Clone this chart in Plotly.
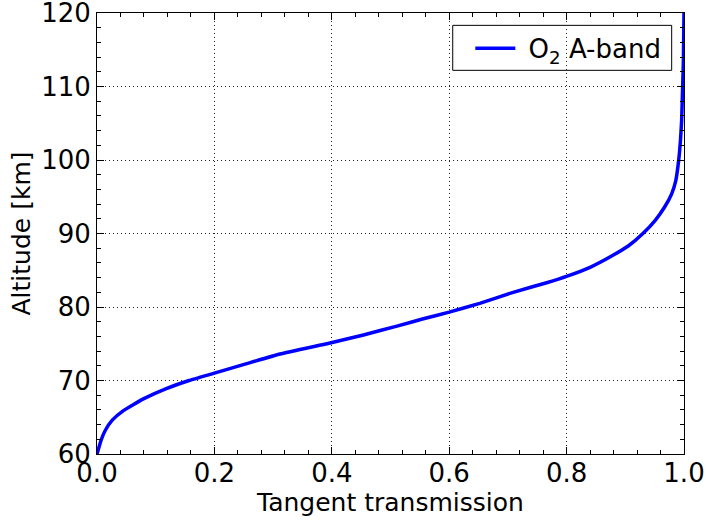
import plotly.graph_objects as go

# Tangent transmission profile of the O2 A-band versus tangent altitude
altitude_km = [60, 61.9, 63.2, 64.6, 65.9, 67.5, 68.9, 70.0, 71.0, 72.3, 73.6, 75.1,
               76.2, 77.4, 78.4, 79.3, 80.5, 82.0, 83.3, 84.2, 85.4, 86.9, 88.3, 90.0,
               91.8, 93.6, 95.4, 97.2, 100.0, 102.7, 105.4, 108.1, 110.8, 113.6, 120.0]
transmission = [0.0, 0.007, 0.014, 0.026, 0.045, 0.079, 0.118, 0.157, 0.2, 0.255, 0.312, 0.397,
                0.454, 0.511, 0.556, 0.6, 0.652, 0.709, 0.766, 0.801, 0.84, 0.876, 0.905, 0.930,
                0.951, 0.967, 0.979, 0.986, 0.991, 0.994, 0.996, 0.997, 0.998, 0.999, 1.0]

x_ticks = [0.0, 0.2, 0.4, 0.6, 0.8, 1.0]
x_tick_labels = ["0.0", "0.2", "0.4", "0.6", "0.8", "1.0"]
y_ticks = [60, 70, 80, 90, 100, 110, 120]
y_tick_labels = ["60", "70", "80", "90", "100", "110", "120"]

X_RANGE = [0, 1]
Y_RANGE = [60, 120]

FONT = "DejaVu Sans"
TICK_SIZE = 26
TITLE_SIZE = 25

fig = go.Figure()
fig.add_trace(go.Scatter(
    x=transmission, y=altitude_km, mode="lines",
    name="\u00a0O<sub>2</sub> A-band",
    line=dict(color="#0000ff", width=3.5, shape="spline", smoothing=0.4),
))

# empty companion trace so the top/right axes carry their own ticks
fig.add_trace(go.Scatter(
    x=[], y=[], xaxis="x2", yaxis="y2", showlegend=False, hoverinfo="skip",
))

tick_style = dict(
    showline=True, linecolor="black", linewidth=1,
    ticks="inside", ticklen=7, tickwidth=1, tickcolor="black",
    zeroline=False, automargin=False,
)
grid_style = dict(showgrid=True, gridcolor="#222222", griddash="1px,3px", gridwidth=1)

fig.update_layout(
    xaxis=dict(
        range=X_RANGE, tickvals=x_ticks, ticktext=x_tick_labels,
        tickfont=dict(family=FONT, size=TICK_SIZE, color="black"),
        ticklabelstandoff=-4, ticklabeloverflow="allow",
        title=dict(text="Tangent transmission",
                   font=dict(family=FONT, size=TITLE_SIZE, color="black"), standoff=0),
        minor=dict(ticks="inside", ticklen=4, tickcolor="black", dtick=0.04, showgrid=False),
        **tick_style, **grid_style,
    ),
    yaxis=dict(
        range=Y_RANGE, tickvals=y_ticks, ticktext=y_tick_labels,
        tickfont=dict(family=FONT, size=TICK_SIZE, color="black"),
        ticklabeloverflow="allow",
        title=dict(text="Altitude [km]",
                   font=dict(family=FONT, size=TITLE_SIZE, color="black"), standoff=3),
        minor=dict(ticks="inside", ticklen=4, tickcolor="black", dtick=2, showgrid=False),
        **tick_style, **grid_style,
    ),
    xaxis2=dict(
        range=X_RANGE, tickvals=x_ticks, showticklabels=False, overlaying="x",
        side="top", anchor="y", showgrid=False,
        minor=dict(ticks="inside", ticklen=4, tickcolor="black", dtick=0.04, showgrid=False),
        **tick_style,
    ),
    yaxis2=dict(
        range=Y_RANGE, tickvals=y_ticks, showticklabels=False, overlaying="y",
        side="right", anchor="x", showgrid=False,
        minor=dict(ticks="inside", ticklen=4, tickcolor="black", dtick=2, showgrid=False),
        **tick_style,
    ),
    width=706, height=520,
    margin=dict(l=97, r=22, t=13, b=66),
    paper_bgcolor="white", plot_bgcolor="white",
    font=dict(family=FONT, color="black"),
    showlegend=True,
    legend=dict(
        x=0.636, y=0.973, xanchor="left", yanchor="top",
        bgcolor="rgba(0,0,0,0)", borderwidth=0,
        font=dict(family=FONT, size=26, color="black"),
        itemwidth=40,
    ),
    shapes=[dict(
        type="rect", xref="paper", yref="paper",
        x0=0.606, x1=0.979, y0=0.870, y1=0.972,
        line=dict(color="black", width=1), fillcolor="white", layer="below",
    )],
)

fig.write_html("out.html")
